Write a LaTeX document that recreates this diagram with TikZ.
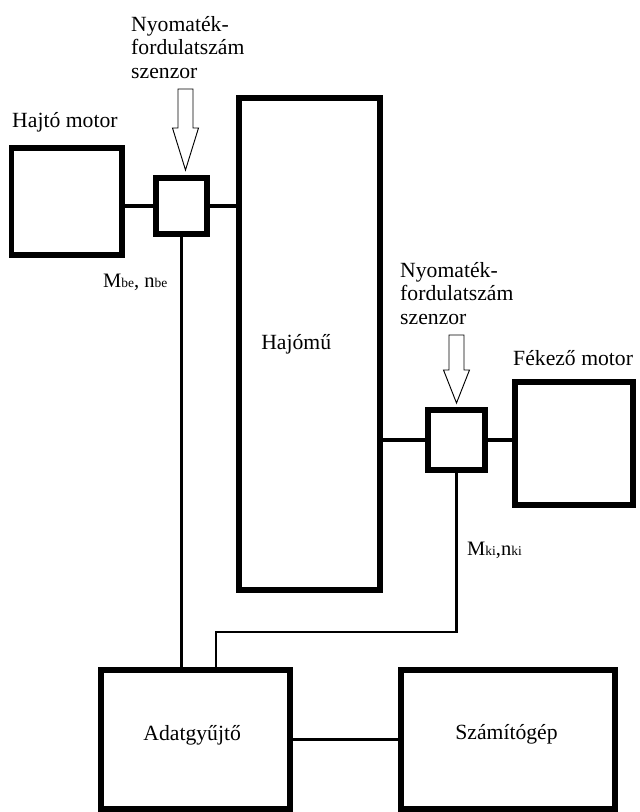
\documentclass[tikz,border=0pt]{standalone}
\usepackage{fontspec}
\setmainfont{Liberation Serif}
\newcommand\indexbetu[1]{{\fontsize{11.5}{13}\selectfont #1}}
\tikzset{
  pics/nyil/.style 2 args={code={
    \draw[line width=0.8pt,fill=white] (0,0) -- (-13,-#1) -- (-7.5,-#1) -- (-7.5,-#2)
      -- (7.5,-#2) -- (7.5,-#1) -- (13,-#1) -- cycle;}}
}
\begin{document}
\begin{tikzpicture}[x=0.03cm, y=-0.03cm,
  doboz/.style={draw,line width=4.3pt,inner sep=0pt,outer sep=0pt},
  tengely/.style={line width=3.8pt},
  jel/.style={line width=2.5pt},
  lbl/.style={font=\fontsize{18.5}{20}\selectfont,inner sep=0pt},
  kicsi/.style={font=\fontsize{17.5}{19}\selectfont,inner sep=0pt}]
  \useasboundingbox (0,0) rectangle (639,812);
  % boxes
  \node[doboz,minimum width=3.315cm,minimum height=3.21cm] (hajto) at (66.75,201.5) {};
  \node[doboz,minimum width=1.53cm,minimum height=1.68cm] (s1) at (181.5,206) {};
  \node[doboz,minimum width=4.23cm,minimum height=14.76cm,
        label={[lbl,anchor=base,xshift=-0.4cm,yshift=0cm]center:Hajómű}] (hajomu) at (309.5,344) {};
  \node[doboz,minimum width=1.71cm,minimum height=1.8cm] (s2) at (456.5,440) {};
  \node[doboz,minimum width=3.54cm,minimum height=3.69cm] (fekezo) at (574,443.5) {};
  \node[doboz,minimum width=5.67cm,minimum height=4.17cm,
        label={[lbl,anchor=base,xshift=-0.1cm,yshift=0.135cm]center:Adatgyűjtő}] (adat) at (195.5,739.5) {};
  \node[doboz,minimum width=6.42cm,minimum height=4.17cm,
        label={[lbl,anchor=base,xshift=-0.045cm,yshift=0.165cm]center:Számítógép}] (szamito) at (508,739.5) {};
  % shafts
  \draw[tengely] (hajto.east |- s1.west) -- (s1.west);
  \draw[tengely] (s1.east) -- (s1.east -| hajomu.west);
  \draw[tengely] (s2.west -| hajomu.east) -- (s2.west);
  \draw[tengely] (s2.east) -- (s2.east -| fekezo.west);
  % signal lines
  \coordinate (kanyar) at (216,632);
  \draw[jel] (s1.south) -- (s1.south |- adat.north);
  \draw[jel] (s2.south) |- (kanyar) -- (kanyar |- adat.north);
  \draw[jel] (adat.east |- szamito.west) -- (szamito.west);
  % sensor arrows
  \pic at ([shift={(4,-8)}]s1.north) {nyil={42}{81}};
  \pic at ([shift={(0,-7)}]s2.north) {nyil={33}{68}};
  % labels
  \node[lbl,anchor=base west] (hajtofelirat) at (12,127) {Hajtó motor};
  \node[lbl,anchor=base west] (fekezofelirat) at (513,365) {Fékező motor};
  \node[lbl,align=left,anchor=north west] (szenzor1felirat) at (131,16) {Nyomaték-\\fordulatszám\\szenzor};
  \node[lbl,align=left,anchor=north west] (szenzor2felirat) at (400,262) {Nyomaték-\\fordulatszám\\szenzor};
  \node[kicsi,anchor=base west] (mbe) at (103,287) {M\indexbetu{be}, n\indexbetu{be}};
  \node[kicsi,anchor=base west] (mki) at (467,555) {M\indexbetu{ki},n\indexbetu{ki}};
\end{tikzpicture}
\end{document}
